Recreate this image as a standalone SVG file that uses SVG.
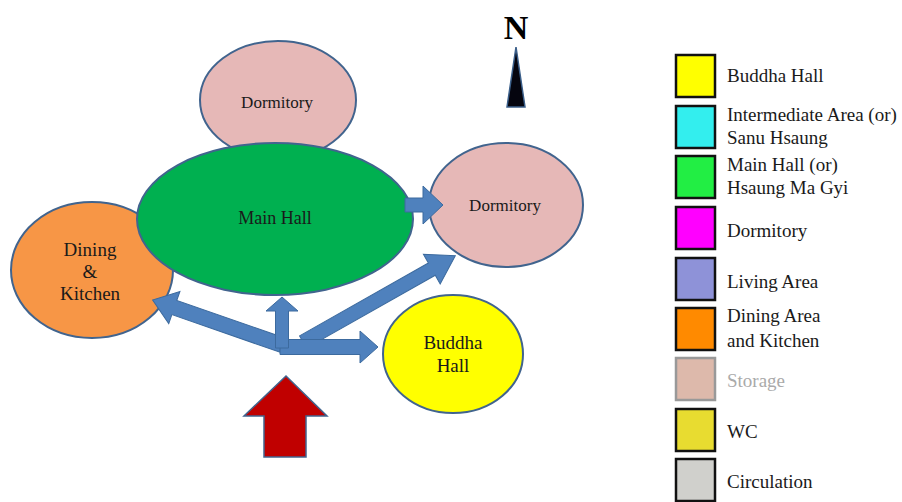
<svg xmlns="http://www.w3.org/2000/svg" width="902" height="502" viewBox="0 0 902 502">
<style>
.room{stroke:#41648E;stroke-width:2}
.t{font-family:"Liberation Serif","Times New Roman",serif;fill:#1a1a1a;text-anchor:middle}
.arr{fill:#4F81BD;stroke:#3C6A9E;stroke-width:1}
.lg{stroke:#111;stroke-width:2.5}
.lt{font-family:"Liberation Serif","Times New Roman",serif;font-size:19px;fill:#1a1a1a}
</style>
<rect width="902" height="502" fill="#fff"/>
<g id="dining">
<ellipse class="room" cx="92" cy="270" rx="81" ry="68" fill="#F79646"/>
<text class="t" x="90" y="256" font-size="19">Dining</text>
<text class="t" x="90" y="278" font-size="19">&amp;</text>
<text class="t" x="90" y="300" font-size="19">Kitchen</text>
</g>
<g id="dorm-top">
<ellipse class="room" cx="278" cy="100" rx="78" ry="59" fill="#E6B8B7"/>
<text class="t" x="277" y="108" font-size="17">Dormitory</text>
</g>
<g id="main-hall">
<ellipse class="room" cx="275" cy="219" rx="138" ry="76" fill="#00B050"/>
<text class="t" x="275" y="224" font-size="18">Main Hall</text>
</g>
<g id="dorm-right">
<ellipse class="room" cx="506" cy="205" rx="77" ry="62" fill="#E6B8B7"/>
<text class="t" x="505" y="211" font-size="17">Dormitory</text>
</g>
<g id="buddha-hall">
<ellipse class="room" cx="453" cy="354" rx="70" ry="59" fill="#FFFF00"/>
<text class="t" x="453" y="349" font-size="19">Buddha</text>
<text class="t" x="453" y="372" font-size="19">Hall</text>
</g>
<g id="connectors">
<path class="arr" transform="translate(405,205)" d="M0,-7 L18,-7 L18,-19 L38,0 L18,19 L18,7 L0,7 Z"/>
<path class="arr" transform="translate(282,345) rotate(199.2)" d="M0,-7.5 L114,-7.5 L114,-17 L137,0 L114,17 L114,7.5 L0,7.5 Z"/>
<path class="arr" transform="translate(303,342) rotate(-29.5)" d="M0,-7 L148,-7 L148,-17 L175,0 L148,17 L148,7 L0,7 Z"/>
<path class="arr" transform="translate(280,347)" d="M0,-7.5 L80,-7.5 L80,-16 L98,0 L80,16 L80,7.5 L0,7.5 Z"/>
<path class="arr" transform="translate(282,348) rotate(-90)" d="M0,-6.5 L37,-6.5 L37,-16 L51,0 L37,16 L37,6.5 L0,6.5 Z"/>
</g>
<g id="entrance">
<path d="M286,376 L327,416 L306,416 L306,457 L264,457 L264,416 L244,416 Z" fill="#C00000" stroke="#41648E" stroke-width="1.5"/>
</g>
<g id="north">
<text x="516" y="39" font-family="Liberation Serif,serif" font-size="34" font-weight="bold" text-anchor="middle" fill="#000">N</text>
<path d="M516,47 L525,107 L507,107 Z" fill="#05050f" stroke="#3B5F8A" stroke-width="1.5"/>
</g>
<g id="legend">
<rect class="lg" x="676" y="55" width="39" height="42" fill="#FFFF00"/>
<text class="lt" x="727" y="82">Buddha Hall</text>
<rect class="lg" x="676" y="106" width="39" height="42" fill="#33EEEE"/>
<text class="lt" x="727" y="121">Intermediate Area (or)</text>
<text class="lt" x="727" y="144">Sanu Hsaung</text>
<rect class="lg" x="676" y="156" width="39" height="42" fill="#22EE44"/>
<text class="lt" x="727" y="171">Main Hall (or)</text>
<text class="lt" x="727" y="194">Hsaung Ma Gyi</text>
<rect class="lg" x="676" y="207" width="39" height="42" fill="#FF00FF"/>
<text class="lt" x="727" y="237">Dormitory</text>
<rect class="lg" x="676" y="258" width="39" height="42" fill="#8E92D8"/>
<text class="lt" x="727" y="288">Living Area</text>
<rect class="lg" x="676" y="308" width="39" height="42" fill="#FF8A00"/>
<text class="lt" x="727" y="322">Dining Area</text>
<text class="lt" x="727" y="347">and Kitchen</text>
<rect x="676" y="358" width="39" height="42" fill="#DDB9AB" stroke="#999" stroke-width="2.5"/>
<text class="lt" x="727" y="387" style="fill:#aaa">Storage</text>
<rect class="lg" x="676" y="409" width="39" height="42" fill="#E8DC30"/>
<text class="lt" x="727" y="438">WC</text>
<rect class="lg" x="676" y="459" width="39" height="42" fill="#D0D0CC"/>
<text class="lt" x="727" y="488">Circulation</text>
</g>
</svg>
